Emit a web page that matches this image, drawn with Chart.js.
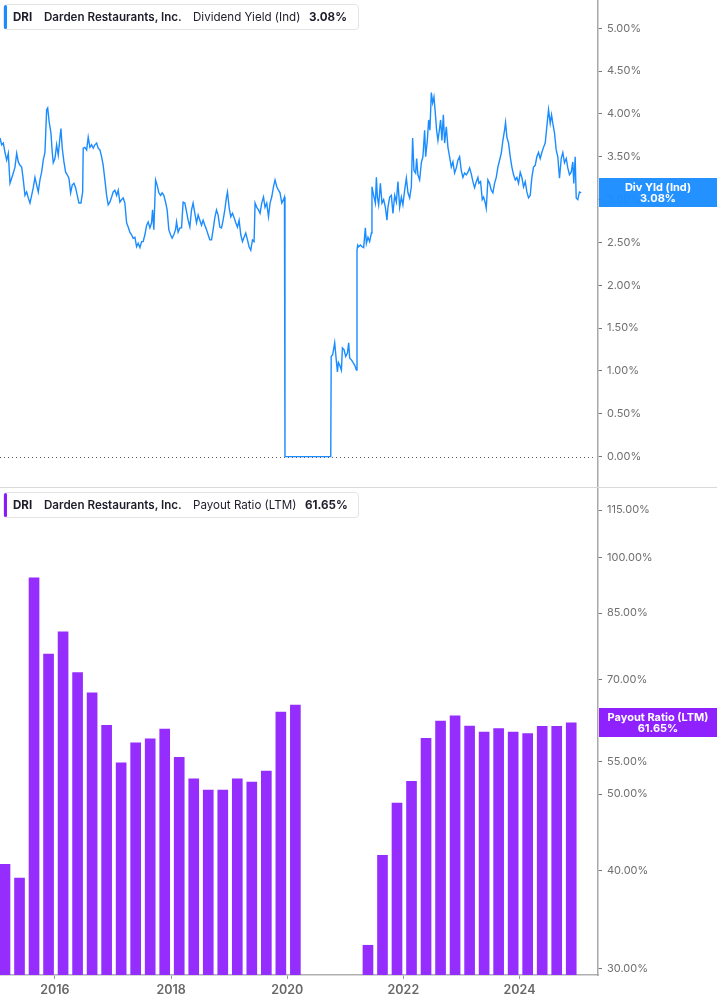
<!DOCTYPE html>
<html>
<head>
<meta charset="utf-8">
<script src="https://cdn.jsdelivr.net/npm/chart.js@4.4.1/dist/chart.umd.min.js"></script>
<style>
html,body{margin:0;padding:0;background:#fff;}
body{width:717px;height:1005px;position:relative;overflow:hidden;font-family:Inter,"Noto Sans",sans-serif;}
canvas{position:absolute;left:0;display:block;}
#topChart{top:0;}
#botChart{top:488px;}
.divider{position:absolute;left:0;top:487px;width:717px;height:1px;background:#d9d9d9;}
.legend{position:absolute;left:3px;width:356px;height:26px;border:1px solid #e4e4e4;border-radius:4px;background:#fff;box-sizing:border-box;}
.accent{position:absolute;left:4px;width:3px;border-radius:2px;}
.lt{position:absolute;font-size:11.6px;color:#1d1d2b;white-space:nowrap;line-height:14px;}
.b{font-weight:700;}
.sb{font-weight:600;}
.vlabel{position:absolute;left:599px;width:118px;height:29px;color:#fff;font-size:11px;font-weight:700;text-align:center;line-height:11px;box-sizing:border-box;padding-top:4px;}
</style>
</head>
<body>
<canvas id="topChart" width="717" height="487"></canvas>
<div class="divider"></div>
<canvas id="botChart" width="717" height="517"></canvas>

<div class="legend" style="top:4px;"></div>
<div class="accent" style="top:5px;height:24px;background:#1a8cff;"></div>
<div class="lt b" style="left:13px;top:10px;">DRI</div>
<div class="lt sb" style="left:44px;top:10px;">Darden Restaurants, Inc.</div>
<div class="lt" style="left:193px;top:10px;">Dividend Yield (Ind)</div>
<div class="lt b" style="left:309px;top:10px;">3.08%</div>

<div class="legend" style="top:492px;"></div>
<div class="accent" style="top:493px;height:24px;background:#8c1aff;"></div>
<div class="lt b" style="left:13px;top:498px;">DRI</div>
<div class="lt sb" style="left:44px;top:498px;">Darden Restaurants, Inc.</div>
<div class="lt" style="left:193px;top:498px;">Payout Ratio (LTM)</div>
<div class="lt b" style="left:305px;top:498px;">61.65%</div>

<div id="yldLabel" class="vlabel" style="background:rgba(26,140,255,0.96);top:178px;">Div Yld (Ind)<br>3.08%</div>
<div id="payLabel" class="vlabel" style="background:rgba(140,26,255,0.97);top:708px;">Payout Ratio (LTM)<br>61.65%</div>

<script>
// ---- Dividend yield (Ind), % ; dates as decimal years ----
const yieldDates = [
2015.054,2015.083,2015.111,2015.140,2015.169,2015.197,2015.226,2015.255,2015.283,2015.312,
2015.341,2015.369,2015.398,2015.427,2015.455,2015.484,2015.513,2015.541,2015.570,2015.599,
2015.627,2015.656,2015.685,2015.713,2015.742,2015.771,2015.799,2015.828,2015.857,2015.875,
2015.902,2015.931,2015.954,2015.971,2016.000,2016.029,2016.057,2016.086,2016.103,2016.126,
2016.155,2016.184,2016.212,2016.241,2016.270,2016.298,2016.327,2016.356,2016.384,2016.413,
2016.448,2016.477,2016.487,2016.516,2016.546,2016.573,2016.602,2016.632,2016.659,2016.688,
2016.718,2016.745,2016.774,2016.804,2016.831,2016.860,2016.890,2016.917,2016.946,2016.976,
2017.003,2017.032,2017.062,2017.089,2017.118,2017.148,2017.175,2017.204,2017.234,2017.261,
2017.290,2017.320,2017.347,2017.377,2017.406,2017.433,2017.463,2017.492,2017.519,2017.549,
2017.578,2017.605,2017.635,2017.664,2017.681,2017.703,2017.733,2017.760,2017.789,2017.819,
2017.846,2017.875,2017.905,2017.932,2017.961,2017.991,2018.018,2018.047,2018.077,2018.094,
2018.121,2018.151,2018.180,2018.207,2018.237,2018.266,2018.293,2018.323,2018.352,2018.379,
2018.409,2018.438,2018.466,2018.495,2018.524,2018.552,2018.581,2018.610,2018.638,2018.667,
2018.696,2018.724,2018.753,2018.782,2018.810,2018.839,2018.868,2018.896,2018.925,2018.954,
2018.971,2018.999,2019.028,2019.057,2019.085,2019.114,2019.143,2019.171,2019.200,2019.229,
2019.257,2019.286,2019.315,2019.343,2019.372,2019.401,2019.429,2019.446,2019.475,2019.505,
2019.532,2019.561,2019.591,2019.618,2019.647,2019.677,2019.704,2019.733,2019.763,2019.790,
2019.820,2019.849,2019.876,2019.906,2019.935,2019.952,2019.961,2020.749,2020.757,2020.783,
2020.817,2020.847,2020.864,2020.881,2020.903,2020.933,2020.950,2020.977,2021.007,2021.036,
2021.058,2021.075,2021.105,2021.132,2021.161,2021.191,2021.201,2021.213,2021.230,2021.259,
2021.287,2021.316,2021.345,2021.363,2021.390,2021.419,2021.449,2021.459,2021.488,2021.518,
2021.535,2021.552,2021.574,2021.604,2021.631,2021.660,2021.690,2021.717,2021.734,2021.764,
2021.793,2021.820,2021.850,2021.879,2021.906,2021.936,2021.965,2021.992,2022.022,2022.051,
2022.079,2022.108,2022.137,2022.159,2022.182,2022.211,2022.228,2022.250,2022.280,2022.309,
2022.336,2022.366,2022.383,2022.412,2022.435,2022.457,2022.481,2022.503,2022.526,2022.550,
2022.572,2022.595,2022.619,2022.641,2022.663,2022.688,2022.710,2022.739,2022.767,2022.796,
2022.825,2022.853,2022.882,2022.911,2022.939,2022.968,2022.997,2023.025,2023.054,2023.083,
2023.111,2023.140,2023.169,2023.197,2023.226,2023.255,2023.283,2023.300,2023.329,2023.358,
2023.381,2023.410,2023.427,2023.455,2023.484,2023.513,2023.541,2023.570,2023.599,2023.627,
2023.656,2023.685,2023.713,2023.742,2023.759,2023.782,2023.811,2023.840,2023.868,2023.897,
2023.926,2023.954,2023.983,2024.012,2024.040,2024.069,2024.098,2024.126,2024.155,2024.184,
2024.212,2024.241,2024.270,2024.298,2024.327,2024.356,2024.384,2024.413,2024.442,2024.470,
2024.499,2024.528,2024.551,2024.573,2024.602,2024.631,2024.659,2024.688,2024.718,2024.745,
2024.774,2024.804,2024.831,2024.860,2024.890,2024.917,2024.934,2024.958,2024.976,2025.003,
2025.032,2025.062
];
const yieldValues = [
3.72,3.64,3.66,3.55,3.46,3.54,3.19,3.25,3.31,3.38,
3.54,3.44,3.40,3.38,3.23,3.05,3.09,3.02,2.96,3.05,
3.14,3.26,3.17,3.09,3.23,3.32,3.46,3.55,4.05,4.07,
3.90,3.78,3.55,3.43,3.48,3.64,3.52,3.72,3.83,3.60,
3.44,3.32,3.29,3.25,3.08,3.17,3.19,3.14,3.05,2.96,
2.96,3.09,3.60,3.61,3.58,3.73,3.61,3.64,3.60,3.64,
3.66,3.60,3.58,3.50,3.40,3.23,3.05,2.94,2.97,3.03,
3.09,3.11,3.05,3.11,2.97,3.00,3.02,2.96,2.73,2.68,
2.62,2.59,2.55,2.56,2.45,2.49,2.44,2.51,2.51,2.59,
2.70,2.74,2.67,2.73,2.88,2.65,3.23,3.17,3.08,3.05,
3.08,3.05,2.97,2.88,2.65,2.59,2.55,2.59,2.65,2.74,
2.62,2.67,2.67,2.97,2.96,2.86,2.76,2.68,2.88,2.96,
2.84,2.73,2.82,2.76,2.70,2.76,2.70,2.65,2.59,2.53,
2.53,2.65,2.79,2.88,2.82,2.68,2.67,2.76,2.88,3.03,
3.09,2.91,2.80,2.84,2.79,2.73,2.68,2.76,2.59,2.51,
2.56,2.61,2.53,2.45,2.41,2.53,2.51,2.96,2.91,2.88,
2.84,2.96,3.03,2.91,2.96,2.80,2.96,3.03,3.15,3.23,
3.15,3.11,3.08,2.96,3.00,3.03,0.00,0.00,1.17,1.19,
1.33,1.11,0.99,1.10,1.07,1.01,1.27,1.25,1.17,1.21,
1.33,1.15,1.13,1.10,1.07,1.01,2.41,2.47,2.45,2.47,
2.45,2.44,2.67,2.49,2.56,2.51,2.61,3.15,3.05,2.96,
3.26,3.03,2.94,3.19,2.96,3.00,2.91,2.76,2.91,3.03,
3.05,2.84,3.05,2.97,3.21,2.91,3.03,2.94,3.11,3.25,
3.08,3.02,3.15,3.72,3.34,3.31,3.48,3.29,3.23,3.43,
3.50,3.81,3.50,3.69,3.93,3.81,4.25,4.13,4.20,4.01,
3.81,3.69,3.81,3.93,3.69,3.99,3.66,3.85,3.61,3.50,
3.38,3.44,3.31,3.37,3.46,3.50,3.34,3.26,3.31,3.29,
3.32,3.37,3.30,3.21,3.14,3.21,3.26,3.19,3.21,3.00,
3.03,2.96,2.90,3.23,3.19,3.11,3.08,3.19,3.26,3.38,
3.46,3.54,3.69,3.81,3.90,3.73,3.66,3.50,3.38,3.29,
3.23,3.26,3.19,3.32,3.26,3.15,3.21,3.09,3.02,3.05,
3.26,3.38,3.40,3.50,3.55,3.48,3.55,3.61,3.66,3.85,
4.05,3.89,3.99,3.89,3.78,3.58,3.50,3.25,3.48,3.55,
3.43,3.48,3.37,3.29,3.32,3.44,3.19,3.50,3.02,3.00,
3.09,3.08
];
const yieldTicks = [0,0.5,1,1.5,2,2.5,3,3.5,4,4.5,5];

// ---- Payout ratio (LTM), % ; fiscal quarter ends as decimal years ----
const payoutDates = [
2015.14,2015.39,2015.64,2015.89,2016.14,2016.39,2016.64,2016.89,2017.14,2017.39,
2017.64,2017.89,2018.14,2018.39,2018.64,2018.89,2019.14,2019.39,2019.64,2019.89,
2020.14,
2021.39,2021.64,2021.89,2022.14,2022.39,2022.64,2022.89,2023.14,2023.39,
2023.64,2023.89,2024.14,2024.39,2024.64,2024.89
];
const payoutValues = [
40.7,39.1,94.3,75.4,80.5,71.4,67.3,61.2,54.8,58.1,
58.8,60.5,55.7,52.3,50.6,50.6,52.3,51.8,53.5,63.6,
64.9,
32.1,41.8,48.7,51.9,58.9,61.95,62.9,61.06,60.0,
60.6,60.0,59.7,61.0,61.0,61.65
];
const payoutTicks = [30,40,50,55,70,85,100,115];
const yearTicks = [2016,2018,2020,2022,2024];

const lastYield = yieldValues[yieldValues.length-1];
const lastPayout = payoutValues[payoutValues.length-1];

const X_MIN = 2015.054, X_MAX = 2025.351;
Chart.defaults.font.family = 'Inter, "Noto Sans", sans-serif';

const tickFont = {size: 11};
const tickColor = '#6f6f6f';

function placeLabel(id, chart, value, canvasTop){
  const y = chart.scales.y.getPixelForValue(value);
  const el = document.getElementById(id);
  el.style.top = (canvasTop + y - 14.5) + 'px';
}

function fitY(s){ s.width = 119; s.paddingTop = 0; s.paddingBottom = 0; }
function fitX(s){ s.height = 30; s.paddingLeft = 0; s.paddingRight = 0; }

const zeroLine = {
  id: 'zeroLine',
  afterDatasetsDraw(chart){
    const {ctx, chartArea} = chart;
    const y = Math.round(chart.scales.y.getPixelForValue(0)) + 0.5;
    ctx.save();
    ctx.strokeStyle = '#5a5a5a';
    ctx.lineWidth = 1;
    ctx.setLineDash([1,3]);
    ctx.beginPath();
    ctx.moveTo(chartArea.left, y);
    ctx.lineTo(chartArea.right - 2, y);
    ctx.stroke();
    ctx.restore();
  },
  afterRender(chart){ placeLabel('yldLabel', chart, lastYield, 0); }
};

new Chart(document.getElementById('topChart'), {
  type: 'line',
  data: {
    datasets: [{
      data: yieldDates.map((d,i)=>({x:d, y:yieldValues[i]})),
      borderColor: '#1a8cff',
      borderWidth: 1.4,
      pointRadius: 0,
      tension: 0,
      fill: false
    }]
  },
  options: {
    responsive: false,
    animation: false,
    devicePixelRatio: 1,
    layout: {padding: 0},
    plugins: {legend: {display: false}, tooltip: {enabled: false}},
    scales: {
      x: {type: 'linear', min: X_MIN, max: X_MAX, display: false},
      y: {
        type: 'linear', position: 'right', min: -0.354, max: 5.33,
        afterBuildTicks: s => { s.ticks = yieldTicks.map(v=>({value:v})); },
        afterFit: fitY,
        ticks: {callback: v => v.toFixed(2) + '%', font: tickFont, color: tickColor, padding: 5},
        grid: {drawOnChartArea: false, drawTicks: true, tickLength: 4, color: '#777'},
        border: {display: true, color: '#a8a8a8', width: 1.5}
      }
    }
  },
  plugins: [zeroLine]
});

const payPlugin = {
  id: 'payPlugin',
  afterRender(chart){ placeLabel('payLabel', chart, lastPayout, 488); }
};

new Chart(document.getElementById('botChart'), {
  type: 'bar',
  data: {
    datasets: [{
      data: payoutDates.map((d,i)=>({x:d, y:payoutValues[i]})),
      backgroundColor: '#962dff',
      borderWidth: 0,
      barThickness: 10
    }]
  },
  options: {
    responsive: false,
    animation: false,
    devicePixelRatio: 1,
    layout: {padding: 0},
    plugins: {legend: {display: false}, tooltip: {enabled: false}},
    scales: {
      x: {
        type: 'linear', min: X_MIN, max: X_MAX, offset: false,
        afterBuildTicks: s => { s.ticks = yearTicks.map(v=>({value:v})); },
        afterFit: fitX,
        ticks: {callback: v => String(v), font: {size: 12.5, weight: '600'}, color: '#676767', padding: 4, maxRotation: 0, autoSkip: false},
        grid: {drawOnChartArea: false, drawTicks: true, tickLength: 4, color: '#999', offset: false},
        border: {display: true, color: '#b0b0b0', width: 1.5}
      },
      y: {
        type: 'logarithmic', position: 'right', min: 29.42, max: 122.7,
        afterBuildTicks: s => { s.ticks = payoutTicks.map(v=>({value:v})); },
        afterFit: fitY,
        ticks: {callback: v => Number(v).toFixed(2) + '%', font: tickFont, color: tickColor, padding: 5},
        grid: {drawOnChartArea: false, drawTicks: true, tickLength: 4, color: '#777'},
        border: {display: true, color: '#a8a8a8', width: 1.5}
      }
    }
  },
  plugins: [payPlugin]
});
</script>
</body>
</html>
